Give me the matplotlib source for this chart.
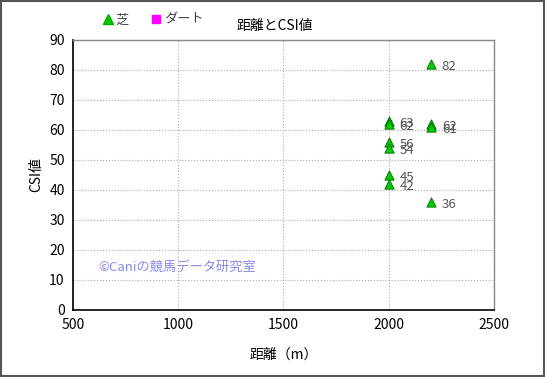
import matplotlib
matplotlib.use("Agg")
import matplotlib.pyplot as plt
from matplotlib.lines import Line2D

plt.rcParams['font.family'] = ['Noto Sans CJK JP', 'DejaVu Sans']

turf_dist = [2000, 2000, 2000, 2000, 2000, 2000, 2200, 2200, 2200, 2200]
turf_csi = [63, 62, 56, 54, 45, 42, 82, 62, 61, 36]
dirt_dist = []
dirt_csi = []
xticks = [500, 1000, 1500, 2000, 2500]
yticks = list(range(0, 91, 10))

fig = plt.figure(figsize=(5.45, 3.77), dpi=100)
fig.patch.set_facecolor('white')
ax = fig.add_axes([0.134, 0.178, 0.772, 0.716])

ax.scatter(turf_dist, turf_csi, marker='^', s=45, c='#00cc00', edgecolors='#006600', linewidths=0.6, zorder=3)
ax.scatter(dirt_dist, dirt_csi, marker='s', s=40, c='#ff00ff', zorder=3)
for x, y in zip(turf_dist, turf_csi):
    ax.annotate(str(y), (x, y), xytext=(8, -4.5), textcoords='offset points', fontsize=9.5, color='#555555', zorder=4)

ax.set_xlim(500, 2500)
ax.set_ylim(0, 90)
ax.set_xticks(xticks)
ax.set_yticks(yticks)
ax.tick_params(length=0, labelsize=10, pad=6)
ax.grid(True, color='#aaaaaa', linestyle=':', linewidth=0.8)
ax.set_axisbelow(True)
for s in ['left', 'bottom']:
    ax.spines[s].set_color('black')
    ax.spines[s].set_linewidth(1.2)
for s in ['top', 'right']:
    ax.spines[s].set_color('#888888')
    ax.spines[s].set_linewidth(1.0)

ax.set_xlabel('距離（m）', fontsize=10, loc='center')
ax.set_ylabel('CSI値', fontsize=10)
ax.xaxis.set_label_coords(0.5, -0.14)

ax.text(0.06, 0.145, '©Caniの競馬データ研究室', transform=ax.transAxes, fontsize=9.5, color='#8888ee')

fig.text(0.505, 0.93, '距離とCSI値', ha='center', va='center', fontsize=10)

h1 = Line2D([], [], marker='^', color='none', markerfacecolor='#00cc00', markeredgecolor='#00aa00', markersize=7)
h2 = Line2D([], [], marker='s', color='none', markerfacecolor='#ff00ff', markeredgecolor='#ff00ff', markersize=6)
fig.legend([h1, h2], ['芝', 'ダート'], loc='center left', bbox_to_anchor=(0.161, 0.947), ncol=2,
           frameon=False, fontsize=9.5, handletextpad=0.0, columnspacing=1.5, handlelength=1.2, labelcolor='#444444')

border = plt.Rectangle((0.002, 0.003), 0.996, 0.994, transform=fig.transFigure, fill=False, edgecolor='#555555', linewidth=1.5)
fig.patches.append(border)

fig.savefig('out.png', dpi=100)
